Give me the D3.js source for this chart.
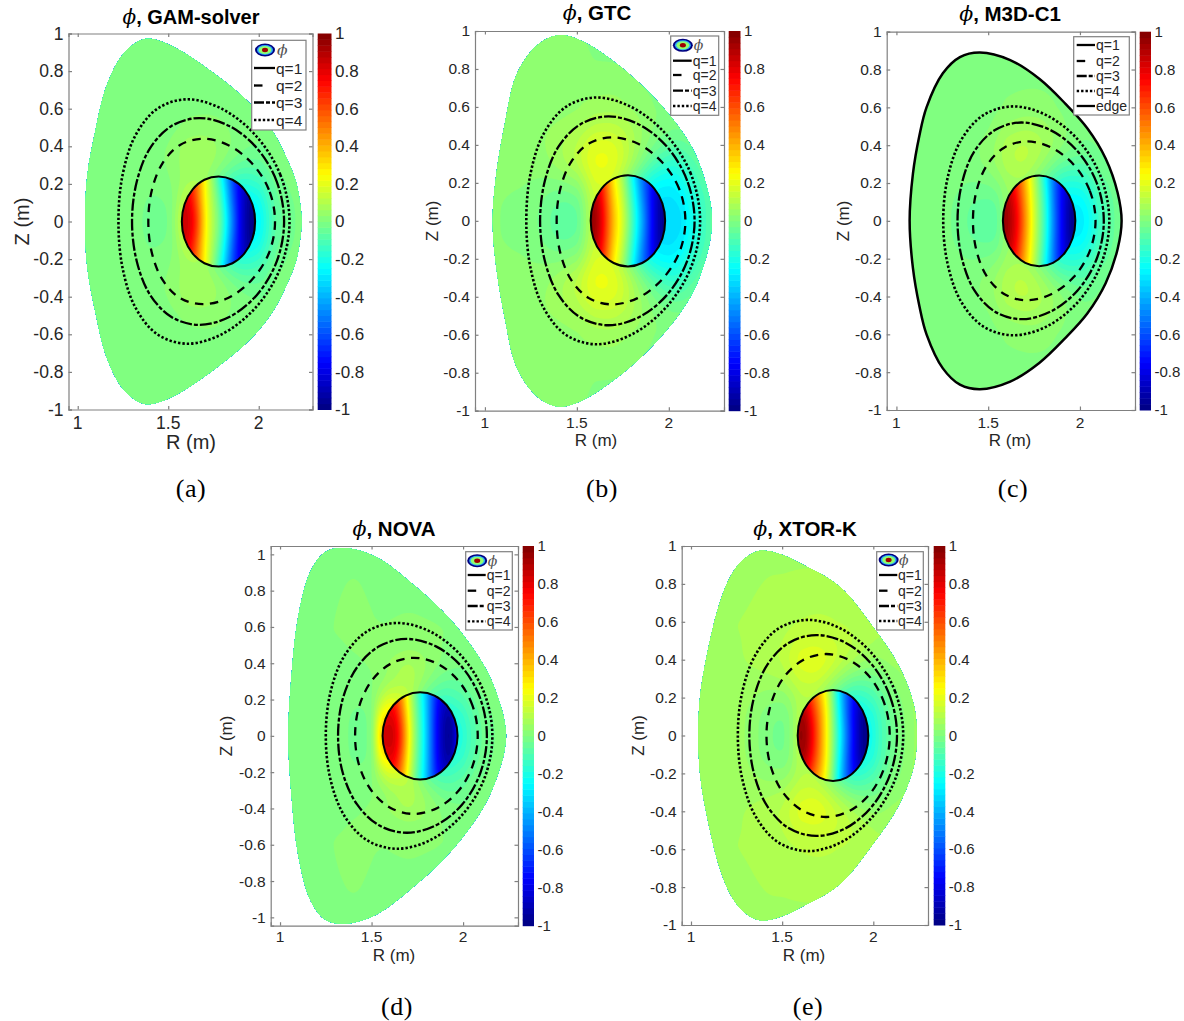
<!DOCTYPE html>
<html>
<head>
<meta charset="utf-8">
<script src="https://cdn.jsdelivr.net/npm/d3@7"></script>
<style>
  html, body { margin: 0; background: #fff; }
  svg { display: block; }
  text { font-family: "Liberation Sans", Arial, sans-serif; fill: #262626; }
  .title { font-weight: bold; fill: #000; }
  .phi { font-family: "DejaVu Serif", serif; font-style: italic; font-weight: normal; }
  .caption { font-family: "Liberation Serif", serif; fill: #000; letter-spacing: 0.6px; }
  .axis path, .axis line { stroke: #808080; stroke-width: 1.2; }
  .axis text { fill: #262626; }
</style>
</head>
<body>
<svg width="1184" height="1021"></svg>
<script>
var zTicks = [1, 0.8, 0.6, 0.4, 0.2, 0, -0.2, -0.4, -0.6, -0.8, -1],
    rTicks = [1, 1.5, 2],
    barTicks = [1, 0.8, 0.6, 0.4, 0.2, 0, -0.2, -0.4, -0.6, -0.8, -1],
    qNames = ["q=1", "q=2", "q=3", "q=4"],
    captions = ["(a)", "(b)", "(c)", "(d)", "(e)"],
    codes = ["GAM-solver", "GTC", "M3D-C1", "NOVA", "XTOR-K"];

// flux surfaces, upper half only as [R, Z], outer midplane to inner midplane; the lower half is mirrored
var edgeA = [[2.237,0],[2.228,.10],[2.206,.21],[2.155,.335],[2.08,.475],[1.96,.62],[1.75,.79],[1.528,.93],[1.40,.972],[1.344,.963],[1.252,.892],[1.16,.723],[1.096,.475],[1.053,.245],[1.04,0]],
    edgeB = [[2.235,0],[2.225,.1],[2.19,.233],[2.135,.37],[2.05,.5],[1.90,.67],[1.70,.84],[1.52,.95],[1.40,.978],[1.285,.926],[1.172,.77],[1.11,.52],[1.06,.23],[1.042,0]],
    edgeC = [[2.227,0],[2.205,.15],[2.14,.33],[2.04,.49],[1.92,.62],[1.78,.75],[1.62,.85],[1.455,.89],[1.346,.866],[1.253,.78],[1.164,.60],[1.125,.45],[1.09,.25],[1.072,0]],
    edgeD = [[2.235,0],[2.228,.07],[2.21,.15],[2.137,.345],[2.02,.53],[1.884,.69],[1.72,.84],[1.525,.985],[1.355,1.035],[1.25,1.015],[1.168,.91],[1.10,.66],[1.064,.346],[1.045,0]],
    edgeE = [[2.238,0],[2.224,.153],[2.142,.364],[1.996,.575],[1.814,.786],[1.596,.91],[1.495,.955],[1.377,.975],[1.286,.927],[1.222,.848],[1.158,.70],[1.086,.417],[1.05,.206],[1.04,0]];

var q1AB = [[1.98,0],[1.965,.092],[1.921,.17],[1.855,.222],[1.778,.24],[1.70,.222],[1.634,.17],[1.59,.092],[1.575,0]],
    q2AB = [[2.09,0],[2.056,.169],[1.961,.311],[1.83,.407],[1.69,.44],[1.565,.407],[1.469,.311],[1.41,.169],[1.39,0]],
    q3AB = [[2.14,0],[2.10,.211],[1.991,.389],[1.837,.508],[1.67,.55],[1.518,.508],[1.399,.389],[1.326,.211],[1.30,0]],
    q4AB = [[2.17,0],[2.119,.249],[1.981,.46],[1.795,.60],[1.603,.65],[1.44,.60],[1.32,.46],[1.248,.249],[1.225,0]];

var q1C = [[1.975,0],[1.96,.092],[1.917,.17],[1.853,.222],[1.778,.24],[1.702,.222],[1.638,.17],[1.595,.092],[1.58,0]],
    q2C = [[2.085,0],[2.053,.161],[1.966,.297],[1.843,.388],[1.71,.42],[1.589,.388],[1.495,.297],[1.437,.161],[1.417,0]],
    q3C = [[2.13,0],[2.092,.199],[1.987,.368],[1.839,.48],[1.68,.52],[1.537,.48],[1.425,.368],[1.357,.199],[1.333,0]],
    q4C = [[2.16,0],[2.114,.232],[1.99,.428],[1.817,.559],[1.635,.605],[1.474,.559],[1.353,.428],[1.28,.232],[1.255,0]];

var q1D = [[1.97,0],[1.954,.092],[1.91,.17],[1.844,.222],[1.765,.24],[1.686,.222],[1.62,.17],[1.576,.092],[1.56,0]],
    q2D = [[2.08,0],[2.052,.165],[1.974,.304],[1.86,.397],[1.73,.43],[1.604,.397],[1.501,.304],[1.433,.165],[1.41,0]],
    q3D = [[2.13,0],[2.094,.205],[1.995,.378],[1.852,.493],[1.692,.534],[1.541,.493],[1.421,.378],[1.343,.205],[1.317,0]],
    q4D = [[2.16,0],[2.115,.238],[1.991,.44],[1.82,.575],[1.638,.622],[1.475,.575],[1.351,.44],[1.275,.238],[1.25,0]];

var q1E = [[1.973,0],[1.958,.092],[1.916,.17],[1.853,.222],[1.779,.24],[1.705,.222],[1.642,.17],[1.60,.092],[1.585,0]],
    q2E = [[2.09,0],[2.062,.165],[1.985,.304],[1.871,.397],[1.74,.43],[1.613,.397],[1.507,.304],[1.438,.165],[1.414,0]],
    q3E = [[2.13,0],[2.093,.203],[1.992,.375],[1.847,.49],[1.687,.53],[1.538,.49],[1.42,.375],[1.346,.203],[1.32,0]],
    q4E = [[2.164,0],[2.119,.233],[1.994,.431],[1.822,.564],[1.64,.61],[1.479,.564],[1.357,.431],[1.282,.233],[1.257,0]];

var fieldR = [1.0, 1.2, 1.3, 1.4, 1.5, 1.55, 1.6, 1.7, 1.8, 1.9, 2.0, 2.05, 2.1, 2.2, 2.3],
    fieldZ = [0, .1, .2, .3, .4, .5, .6, .8, 1.06];

var phiA = [
  [0,0,.01,-.04,-.03,.08,.2,.2,-.2,-.3,-.28,-.16,-.06,-.01,0],
  [0,0,.01,-.03,-.02,.05,.15,.15,-.15,-.3,-.24,-.14,-.05,-.01,0],
  [0,0,0,-.01,.01,.03,.07,.08,-.1,-.2,-.14,-.08,-.03,0,0],
  [0,0,0,0,.02,.04,.07,.08,.02,-.06,-.06,-.03,-.01,0,0],
  [0,0,0,0,.02,.04,.07,.08,.04,0,-.02,-.01,0,0,0],
  [0,0,0,0,0,.01,.02,.03,.02,0,0,0,0,0,0],
  [0,0,0,0,0,0,.01,.01,.01,0,0,0,0,0,0],
  [0,0,0,0,0,0,0,0,0,0,0,0,0,0,0],
  [0,0,0,0,0,0,0,0,0,0,0,0,0,0,0]
];
var phiB = [
  [.02,.01,-.02,-.08,-.08,.05,.15,.15,-.2,-.33,-.33,-.32,-.28,-.1,0],
  [.02,.01,-.01,-.06,-.05,.05,.15,.15,-.15,-.3,-.32,-.3,-.26,-.1,0],
  [.02,.02,.01,0,.03,.1,.18,.18,-.05,-.25,-.27,-.24,-.2,-.06,0],
  [.02,.02,.03,.06,.12,.18,.22,.22,.08,-.08,-.17,-.16,-.12,-.03,0],
  [.02,.03,.04,.07,.12,.16,.2,.2,.1,0,-.06,-.06,-.05,-.01,0],
  [.02,.03,.04,.05,.07,.09,.11,.12,.08,.02,0,0,0,0,0],
  [.02,.03,.03,.03,.04,.05,.06,.07,.04,.02,.01,0,0,0,0],
  [.01,.02,.05,.03,.04,.02,.01,.01,.01,0,0,0,0,0,0],
  [.01,.01,.01,.01,.01,.01,.01,.01,0,0,0,0,0,0,0]
];
var phiC = [
  [0,0,-.01,-.06,-.08,-.08,.1,.1,-.2,-.3,-.3,-.25,-.15,-.02,0],
  [0,0,-.01,-.05,-.06,-.05,.05,.05,-.15,-.28,-.27,-.22,-.13,-.02,0],
  [0,0,0,-.02,-.01,.01,.05,.08,-.05,-.2,-.18,-.14,-.08,-.01,0],
  [0,0,0,0,.03,.06,.1,.13,.05,-.06,-.08,-.06,-.03,0,0],
  [0,0,0,0,.03,.06,.1,.13,.09,.03,-.02,-.02,-.01,0,0],
  [0,0,0,0,.01,.03,.05,.07,.06,.02,0,0,0,0,0],
  [0,0,0,0,0,.01,.02,.03,.03,.01,0,0,0,0,0],
  [0,0,0,0,0,0,0,0,0,0,0,0,0,0,0],
  [0,0,0,0,0,0,0,0,0,0,0,0,0,0,0]
];
var phiD = [
  [0,.01,0,-.02,-.06,.42,.4,.2,-.2,-.25,-.18,-.1,-.05,0,0],
  [0,.01,0,-.02,-.05,.3,.35,.2,-.15,-.25,-.15,-.09,-.04,0,0],
  [0,.01,0,-.01,0,.1,.2,.15,-.1,-.15,-.08,-.05,-.02,0,0],
  [0,.01,.01,0,.01,.03,.05,.12,.03,-.06,-.04,-.02,0,0,0],
  [0,.01,.01,.01,.02,.03,.05,.1,.05,.01,-.01,0,0,0,0],
  [0,.01,.01,.02,.02,.02,.02,.03,.03,.01,0,0,0,0,0],
  [0,.01,.02,.02,.02,.02,.02,.03,.02,.02,.01,0,0,0,0],
  [0,0,.01,.03,.01,0,0,0,0,0,0,0,0,0,0],
  [0,0,0,0,0,0,0,0,0,0,0,0,0,0,0]
];
var phiE = [
  [.07,.07,.05,0,-.04,.02,.15,.15,-.2,-.32,-.2,-.1,-.05,.04,.08],
  [.07,.07,.05,0,-.03,.02,.12,.12,-.15,-.3,-.18,-.1,-.04,.04,.08],
  [.07,.07,.06,.03,.02,.05,.1,.1,-.1,-.2,-.1,-.06,-.02,.05,.08],
  [.07,.07,.07,.07,.08,.12,.15,.17,.06,-.04,-.03,-.01,.02,.06,.08],
  [.07,.07,.08,.09,.12,.16,.2,.22,.15,.08,.04,.05,.06,.07,.08],
  [.07,.07,.08,.09,.11,.13,.15,.16,.14,.11,.08,.08,.08,.08,.08],
  [.07,.08,.08,.09,.09,.1,.11,.12,.11,.1,.09,.08,.08,.08,.08],
  [.07,.07,.07,.08,.08,.08,.08,.08,.08,.08,.08,.08,.08,.08,.08],
  [.07,.07,.07,.07,.07,.07,.07,.07,.07,.07,.07,.07,.07,.07,.07]
];

// phi inside q=1, same idea on a tighter grid
var coreR = [1.54, 1.58, 1.62, 1.66, 1.70, 1.74, 1.78, 1.82, 1.86, 1.90, 1.94, 1.98, 2.02],
    coreZ = [0, .12, .25];

var coreA = [
  [.88,.88,.85,.68,.3,.12,0,-.22,-.52,-.8,-.97,-1,-1],
  [.85,.85,.78,.55,.27,.1,-.05,-.3,-.6,-.8,-.95,-1,-1],
  [.7,.7,.7,.5,.25,.05,-.15,-.4,-.65,-.8,-.9,-.9,-.9]
];
var coreB = [
  [1,1,.9,.65,.38,.22,.03,-.2,-.42,-.7,-.9,-1,-1],
  [.95,.95,.85,.6,.33,.18,-.03,-.25,-.5,-.72,-.9,-1,-1],
  [.8,.8,.75,.5,.25,.1,-.1,-.35,-.55,-.7,-.85,-.9,-.9]
];
var coreC = [
  [1,1,.92,.78,.5,.22,.02,-.2,-.52,-.75,-.95,-1,-1],
  [.95,.95,.88,.72,.45,.2,0,-.22,-.55,-.75,-.93,-1,-1],
  [.85,.85,.8,.6,.38,.15,-.05,-.3,-.55,-.75,-.85,-.9,-.9]
];
var coreD = [
  [.85,.85,.88,.7,.3,.02,-.2,-.5,-.78,-.95,-1,-.7,-.5],
  [.8,.8,.82,.6,.25,0,-.22,-.5,-.78,-.93,-.95,-.6,-.4],
  [.65,.65,.65,.45,.18,-.05,-.25,-.5,-.72,-.82,-.8,-.5,-.3]
];
var coreE = [
  [.95,.95,1,.82,.55,.28,.02,-.25,-.55,-.8,-.97,-1,-1],
  [.9,.9,.95,.75,.52,.28,0,-.3,-.6,-.82,-.97,-1,-1],
  [.7,.7,.75,.55,.38,.2,-.05,-.35,-.6,-.75,-.85,-.85,-.85]
];

// page layout of each panel, in pixels
var layouts = [
  {x:[68.5,312.5], y:[409.5,33.5], r:[.949,2.297], z:[-1,1], bar:[317.7,331.5], font:17.5, barFont:17, legFont:15.5, label:20, tickY:429, rY:449, rX:191, zX:29, titleX:191, titleY:24, titleFont:20, capX:191, capY:497,
   legend:{x:[251.7,306], y:[40.3,130], rows:[50,68,85.5,102.5,120], line:[254,275], text:276}},
  {x:[475,724], y:[410.7,31], r:[.946,2.3], z:[-1,1], bar:[728.7,740.5], font:15.5, barFont:15, legFont:14, label:17, tickY:428, rY:446, rX:596, zX:438, titleX:597, titleY:20, titleFont:20.5, capX:602, capY:497,
   legend:{x:[670.7,718.7], y:[36,115.3], rows:[45.3,60.7,75,90.7,106], line:[673,691.7], text:692.7}},
  {x:[886.7,1135], y:[410,31.7], r:[.947,2.3], z:[-1,1], bar:[1139.7,1151], font:15.5, barFont:15, legFont:14, label:17, tickY:428, rY:446, rX:1010, zX:849, titleX:1010, titleY:21, titleFont:20.5, capX:1013, capY:497,
   legend:{x:[1073.7,1129.3], y:[36.7,115], rows:[45,61,76,91,106], line:[1076.7,1095], text:1096}},
  {x:[270.7,518], y:[925.7,546], r:[.949,2.3], z:[-1.046,1.046], bar:[522.7,534], font:15.5, barFont:15, legFont:14, label:17, tickY:942, rY:961, rX:394, zX:232, titleX:394, titleY:536, titleFont:20.5, capX:397, capY:1015,
   legend:{x:[465.7,512.3], y:[551.7,630], rows:[560.7,575,590.7,606,621.3], line:[467.7,485.7], text:486.7}},
  {x:[681.7,928], y:[925,546], r:[.949,2.3], z:[-1,1], bar:[933.7,945.3], font:15.5, barFont:15, legFont:14, label:17, tickY:942, rY:961, rX:804, zX:644, titleX:805, titleY:536, titleFont:20.5, capX:808, capY:1015,
   legend:{x:[876.7,923.3], y:[551.7,630], rows:[560,575,590.7,606,621], line:[879,897.3], text:898}}
];

var panelEdges = [edgeA, edgeB, edgeC, edgeD, edgeE],
    panelQ = [[q1AB,q2AB,q3AB,q4AB], [q1AB,q2AB,q3AB,q4AB], [q1C,q2C,q3C,q4C], [q1D,q2D,q3D,q4D], [q1E,q2E,q3E,q4E]],
    panelPhi = [phiA, phiB, phiC, phiD, phiE],
    panelCore = [coreA, coreB, coreC, coreD, coreE];

var qDash = [null, "8.5 6.5", "12 2 4 2", "2.4 2"];

var jet = d3.scaleLinear()
  .domain([-1, -0.75, -0.25, 0.25, 0.75, 1])
  .range(["#00007f", "#0000ff", "#00ffff", "#ffff00", "#ff0000", "#7f0000"]);

var levels = d3.range(-32, 33);

var svg = d3.select("svg");

// rows come in for Z >= 0 going up, mirror them and resample on a fine raster
function sampleField(rows, xs, ys, rExtent, zExtent, step) {
  var full = rows.slice().reverse().concat(rows.slice(1)),
      fullZ = ys.slice().reverse().map(d => -d).concat(ys.slice(1)),
      tx = d3.scaleLinear().domain(xs).range(xs.map((d, i) => i / (xs.length - 1))).clamp(true),
      tz = d3.scaleLinear().domain(fullZ).range(fullZ.map((d, i) => i / (fullZ.length - 1))).clamp(true),
      rowFns = full.map(d => d3.interpolateBasis(d)),
      w = Math.round((rExtent[1] - rExtent[0]) / step),
      h = Math.round((zExtent[1] - zExtent[0]) / step),
      values = new Array(w * h);
  for (var i = 0; i < w; i++) {
    var R = rExtent[0] + (i + 0.5) * step,
        colFn = d3.interpolateBasis(rowFns.map(f => f(tx(R))));
    for (var j = 0; j < h; j++) {
      var Z = zExtent[1] - (j + 0.5) * step;
      values[j * w + i] = colFn(tz(Z));
    }
  }
  return {values: values, w: w, h: h};
}

function drawField(g, grid, rExtent, zExtent, step, sx, sy, clipId) {
  var project = d3.geoTransform({
    point: function(x, y) {
      this.stream.point(sx(rExtent[0] + x * step), sy(zExtent[1] - y * step));
    }
  });
  var path = d3.geoPath(project);
  var contours = d3.contours()
    .size([grid.w, grid.h])
    .thresholds(levels.map(k => (k - 0.5) / 32))(grid.values);
  g.append("g")
    .attr("clip-path", "url(#" + clipId + ")")
    .selectAll("path")
    .data(contours.filter(d => d.coordinates.length))
    .enter().append("path")
      .attr("d", path)
      .attr("fill", d => jet(d.value + 0.5 / 32))
      .attr("stroke", "none");
}

function closeShape(half) {
  return half.concat(half.slice(1, -1).reverse().map(d => [d[0], -d[1]]));
}

function phiMark(sel, cx, cy) {
  [["#00007f", 10, 6.5], ["#2aa8ff", 8, 5], ["#90ff70", 6.5, 4], ["#a00000", 3, 2.2]].forEach(function(e) {
    sel.append("ellipse").attr("cx", cx).attr("cy", cy).attr("rx", e[1]).attr("ry", e[2]).attr("fill", e[0]);
  });
}

captions.forEach(function(cap, n) {
  var lay = layouts[n],
      g = svg.append("g"),
      sx = d3.scaleLinear().domain(lay.r).range(lay.x),
      sy = d3.scaleLinear().domain(lay.z).range(lay.y),
      line = d3.line().x(d => sx(d[0])).y(d => sy(d[1])).curve(d3.curveCatmullRomClosed.alpha(0.5)),
      edge = closeShape(panelEdges[n]),
      qs = panelQ[n],
      q1 = closeShape(qs[0]),
      edgeId = "edge" + n,
      coreId = "core" + n;

  var defs = g.append("defs");
  defs.append("clipPath").attr("id", edgeId).append("path").attr("d", line(edge));
  defs.append("clipPath").attr("id", coreId).append("path").attr("d", line(q1));

  // field, then the core drawn over it
  var rExt = [0.94, 2.31], zExt = [-1.08, 1.08];
  drawField(g, sampleField(panelPhi[n], fieldR, fieldZ, rExt, zExt, 0.01), rExt, zExt, 0.01, sx, sy, edgeId);
  var cExt = [1.52, 2.04], cZExt = [-0.26, 0.26];
  drawField(g, sampleField(panelCore[n], coreR, coreZ, cExt, cZExt, 0.004), cExt, cZExt, 0.004, sx, sy, coreId);

  // axes box with ticks pointing in
  var axes = g.append("g");
  axes.append("g").attr("class", "axis").attr("transform", "translate(0," + lay.y[0] + ")")
    .call(d3.axisBottom(sx).tickValues(rTicks).tickSize(-3.5).tickPadding(0).tickFormat(String))
    .call(s => s.selectAll("text").remove());
  axes.append("g").attr("class", "axis").attr("transform", "translate(0," + lay.y[1] + ")")
    .call(d3.axisTop(sx).tickValues(rTicks).tickSize(-3.5).tickFormat(""));
  axes.append("g").attr("class", "axis").attr("transform", "translate(" + lay.x[0] + ",0)")
    .call(d3.axisLeft(sy).tickValues(zTicks).tickSize(-3.5).tickPadding(5).tickFormat(String))
    .call(s => s.selectAll("text").attr("font-size", lay.font).attr("font-family", null));
  axes.append("g").attr("class", "axis").attr("transform", "translate(" + lay.x[1] + ",0)")
    .call(d3.axisRight(sy).tickValues(zTicks).tickSize(-3.5).tickFormat(""));
  axes.selectAll(".domain").attr("stroke", "#808080");
  axes.selectAll("line").attr("stroke", "#606060");

  rTicks.forEach(function(t) {
    g.append("text").attr("x", sx(t)).attr("y", lay.tickY).attr("text-anchor", "middle")
      .attr("font-size", lay.font).text(t);
  });

  // flux surfaces, outermost first
  d3.range(3, -1, -1).forEach(function(i) {
    g.append("path")
      .attr("d", line(closeShape(qs[i])))
      .attr("fill", "none")
      .attr("stroke", "#000")
      .attr("stroke-width", i === 0 ? 2 : (i === 3 ? 2.6 : 2.3))
      .attr("stroke-dasharray", qDash[i]);
  });
  if (n === 2) {
    g.append("path").attr("d", line(edge)).attr("fill", "none").attr("stroke", "#000").attr("stroke-width", 2.5);
  }

  // colour bar, 64 steps
  var sb = d3.scaleLinear().domain([-1, 1]).range(lay.y);
  g.append("g").selectAll("rect")
    .data(d3.range(64))
    .enter().append("rect")
      .attr("x", lay.bar[0])
      .attr("width", lay.bar[1] - lay.bar[0])
      .attr("y", d => sb(-1 + (d + 1) / 32))
      .attr("height", (lay.y[0] - lay.y[1]) / 64 + 0.5)
      .attr("fill", d => jet(-1 + (d + 0.5) / 32));
  barTicks.forEach(function(t) {
    g.append("text")
      .attr("x", lay.bar[1] + 3.5)
      .attr("y", sb(t))
      .attr("dy", "0.35em")
      .attr("font-size", lay.barFont)
      .text(t);
  });

  // labels
  g.append("text").attr("x", lay.rX).attr("y", lay.rY).attr("text-anchor", "middle")
    .attr("font-size", lay.label).text("R (m)");
  g.append("text")
    .attr("transform", "translate(" + lay.zX + "," + sy(0) + ") rotate(-90)")
    .attr("text-anchor", "middle").attr("font-size", lay.label).text("Z (m)");
  var title = g.append("text").attr("class", "title")
    .attr("x", lay.titleX).attr("y", lay.titleY).attr("text-anchor", "middle")
    .attr("font-size", lay.titleFont);
  title.append("tspan").attr("class", "phi").text("\u03d5");
  title.append("tspan").text(", " + codes[n]);
  g.append("text").attr("class", "caption")
    .attr("x", lay.capX).attr("y", lay.capY).attr("text-anchor", "middle")
    .attr("font-size", 26).text(cap);

  // legend
  var leg = g.append("g"), L = lay.legend;
  leg.append("rect")
    .attr("x", L.x[0]).attr("y", L.y[0])
    .attr("width", L.x[1] - L.x[0]).attr("height", L.y[1] - L.y[0])
    .attr("fill", "#fff").attr("stroke", "#808080").attr("stroke-width", 1.2);
  var rowAt = 0;
  if (n !== 2) {
    phiMark(leg, (L.line[0] + L.line[1]) / 2 + 0.5, L.rows[0]);
    leg.append("text").attr("class", "phi")
      .attr("x", L.text + 1).attr("y", L.rows[0]).attr("dy", "0.35em")
      .attr("font-size", lay.legFont).style("fill", "#555").text("\u03d5");
    rowAt = 1;
  }
  qNames.forEach(function(name, i) {
    var y = L.rows[rowAt + i];
    leg.append("line")
      .attr("x1", L.line[0]).attr("x2", i === 1 ? L.line[0] + 10.5 : L.line[1])
      .attr("y1", y).attr("y2", y)
      .attr("stroke", "#000").attr("stroke-width", 2.3)
      .attr("stroke-dasharray", i === 2 ? "10 2 4 2" : qDash[i]);
    leg.append("text").attr("x", L.text).attr("y", y).attr("dy", "0.36em")
      .attr("font-size", lay.legFont).text(name);
  });
  if (n === 2) {
    var y = L.rows[4];
    leg.append("line").attr("x1", L.line[0]).attr("x2", L.line[1]).attr("y1", y).attr("y2", y)
      .attr("stroke", "#000").attr("stroke-width", 2.3);
    leg.append("text").attr("x", L.text).attr("y", y).attr("dy", "0.36em")
      .attr("font-size", lay.legFont).text("edge");
  }
});
</script>
</body>
</html>
